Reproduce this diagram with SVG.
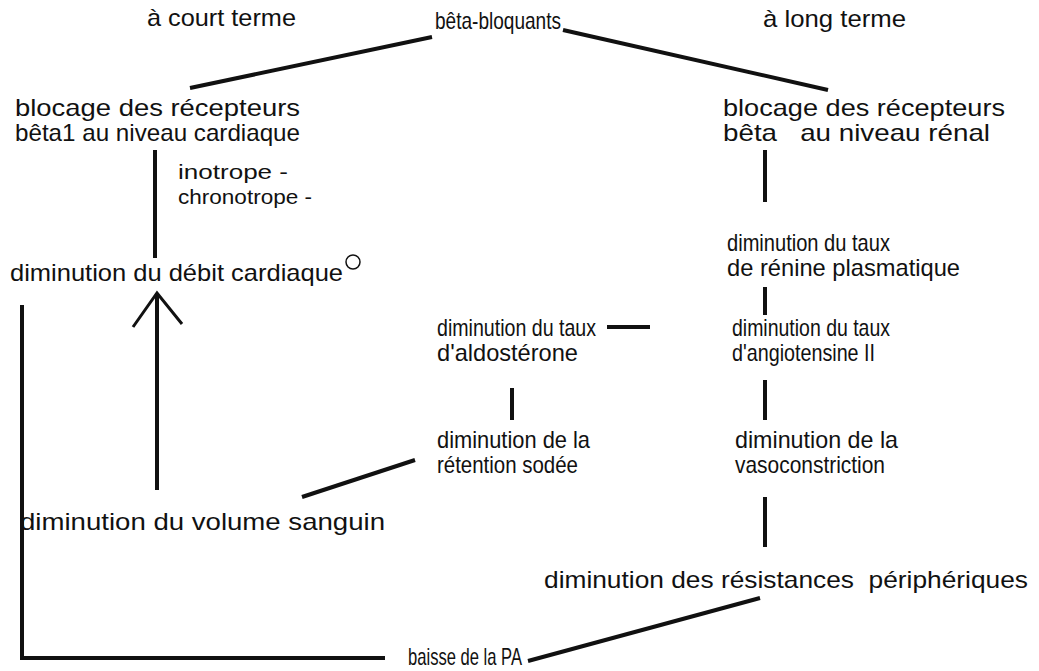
<svg xmlns="http://www.w3.org/2000/svg" width="1039" height="671" viewBox="0 0 1039 671">
  <style>
    text { font-family: "Liberation Sans", Arial, sans-serif; font-size: 24px; fill: #111; }
    text.sm { font-size: 21px; }
    .ln { stroke: #111; stroke-width: 4; fill: none; stroke-linecap: butt; }
    .thin { stroke: #111; stroke-width: 3; fill: none; }
  </style>
  <rect width="1039" height="671" fill="#fff"/>

  <!-- connectors -->
  <g id="connectors">
    <line class="ln" x1="190" y1="88" x2="432" y2="37"/>
    <line class="ln" x1="563" y1="30" x2="828" y2="90"/>
    <line class="ln" x1="155" y1="150" x2="155" y2="258"/>
    <line class="ln" x1="765" y1="150" x2="765" y2="202"/>
    <line class="ln" x1="765" y1="287" x2="765" y2="315"/>
    <line class="ln" x1="607" y1="327" x2="650" y2="327"/>
    <line class="ln" x1="765" y1="380" x2="765" y2="420"/>
    <line class="ln" x1="512" y1="388" x2="512" y2="420"/>
    <line class="ln" x1="765" y1="497" x2="765" y2="547"/>
    <line class="ln" x1="302" y1="497" x2="415" y2="460"/>
    <line class="ln" x1="157" y1="294" x2="157" y2="490"/>
    <polyline class="thin" points="133,327 157,293 182,324"/>
    <polyline class="ln" points="22,305 22,658 385,658"/>
    <line class="ln" x1="528" y1="661" x2="760" y2="598"/>
  </g>

  <g id="beta-bloquants"><text x="435" y="29" textLength="126" lengthAdjust="spacingAndGlyphs">bêta-bloquants</text></g>
  <g id="court-terme"><text x="147" y="26" textLength="149" lengthAdjust="spacingAndGlyphs">à court terme</text></g>
  <g id="long-terme"><text x="763" y="27" textLength="143" lengthAdjust="spacingAndGlyphs">à long terme</text></g>

  <g id="blocage-cardiaque">
    <text x="15" y="116" textLength="285" lengthAdjust="spacingAndGlyphs">blocage des récepteurs</text>
    <text x="15" y="141" textLength="285" lengthAdjust="spacingAndGlyphs">bêta1 au niveau cardiaque</text>
  </g>
  <g id="blocage-renal">
    <text x="723" y="116" textLength="282" lengthAdjust="spacingAndGlyphs">blocage des récepteurs</text>
    <text x="723" y="141" textLength="267" lengthAdjust="spacingAndGlyphs" xml:space="preserve">bêta   au niveau rénal</text>
  </g>
  <g id="inotrope">
    <text class="sm" x="178" y="179" textLength="110" lengthAdjust="spacingAndGlyphs">inotrope -</text>
    <text class="sm" x="178" y="204" textLength="134" lengthAdjust="spacingAndGlyphs">chronotrope -</text>
  </g>
  <g id="debit-cardiaque">
    <text x="10" y="281" textLength="333" lengthAdjust="spacingAndGlyphs">diminution du débit cardiaque</text>
    <circle cx="353" cy="262" r="7" fill="none" stroke="#111" stroke-width="1.5"/>
  </g>
  <g id="renine">
    <text x="727" y="251" textLength="163" lengthAdjust="spacingAndGlyphs">diminution du taux</text>
    <text x="727" y="276" textLength="233" lengthAdjust="spacingAndGlyphs">de rénine plasmatique</text>
  </g>
  <g id="aldosterone">
    <text x="437" y="336" textLength="159" lengthAdjust="spacingAndGlyphs">diminution du taux</text>
    <text x="437" y="361" textLength="141" lengthAdjust="spacingAndGlyphs">d'aldostérone</text>
  </g>
  <g id="angiotensine">
    <text x="732" y="336" textLength="158" lengthAdjust="spacingAndGlyphs">diminution du taux</text>
    <text x="732" y="361" textLength="143" lengthAdjust="spacingAndGlyphs">d'angiotensine II</text>
  </g>
  <g id="retention">
    <text x="437" y="448" textLength="153" lengthAdjust="spacingAndGlyphs">diminution de la</text>
    <text x="437" y="473" textLength="141" lengthAdjust="spacingAndGlyphs">rétention sodée</text>
  </g>
  <g id="vasoconstriction">
    <text x="735" y="448" textLength="163" lengthAdjust="spacingAndGlyphs">diminution de la</text>
    <text x="735" y="473" textLength="150" lengthAdjust="spacingAndGlyphs">vasoconstriction</text>
  </g>
  <g id="volume-sanguin"><text x="20" y="530" textLength="365" lengthAdjust="spacingAndGlyphs">diminution du volume sanguin</text></g>
  <g id="resistances"><text x="544" y="588" textLength="484" lengthAdjust="spacingAndGlyphs" xml:space="preserve">diminution des résistances  périphériques</text></g>
  <g id="baisse-pa"><text x="408" y="665" textLength="114" lengthAdjust="spacingAndGlyphs">baisse de la PA</text></g>
</svg>
